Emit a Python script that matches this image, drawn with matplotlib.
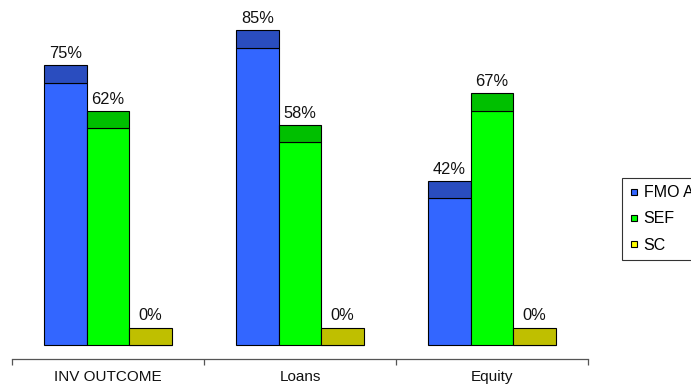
import matplotlib
matplotlib.use("Agg")
import matplotlib.pyplot as plt
from matplotlib.lines import Line2D

plt.rcParams["font.family"] = ["Liberation Sans", "DejaVu Sans"]

categories = ["INV OUTCOME", "Loans", "Equity"]
series = ["FMO A", "SEF", "SC"]
fmo_a = [75, 85, 42]
sef = [62, 58, 67]
sc = [0, 0, 0]

face_colors = ["#3366FF", "#00FF00", "#FFFF00"]
cap_colors = ["#2A4DBF", "#00BF00", "#BFBF00"]

W, H = 691, 387
fig = plt.figure(figsize=(W / 100, H / 100), dpi=100)

# axes spans the category axis line (x 12..588 px), top of figure down to the axis line
px_per_unit = 3.5
ax_bottom_px = 359
ax = fig.add_axes([12 / W, 1 - ax_bottom_px / H, 576 / W, ax_bottom_px / H])
ax.set_xlim(0, 3)
ax.set_ylim(-14 / px_per_unit, 345 / px_per_unit)

cap = 17.5 / px_per_unit
bar_w = 2 / 9
for k, vals in enumerate([fmo_a, sef, sc]):
    xs = [i + 1 / 6 + k * bar_w for i in range(len(categories))]
    ax.bar(xs, vals, width=bar_w, align="edge", color=face_colors[k],
           edgecolor="black", linewidth=0.8, zorder=2)
    ax.bar(xs, [cap] * len(vals), bottom=vals, width=bar_w, align="edge",
           color=cap_colors[k], edgecolor="black", linewidth=0.8, zorder=2)
    for x, v in zip(xs, vals):
        ax.text(x + bar_w / 2, v + cap + 11.5 / px_per_unit, f"{v}%",
                ha="center", va="center", fontsize=11.8, color="#111111")

for s in ["left", "right", "top"]:
    ax.spines[s].set_visible(False)
ax.spines["bottom"].set_color("#555555")
ax.spines["bottom"].set_linewidth(0.9)
ax.set_yticks([])
ax.set_xticks([0, 1, 2, 3])
ax.set_xticklabels([])
ax.tick_params(axis="x", direction="out", length=4, color="#555555", width=0.9)
for i, c in enumerate(categories):
    ax.text(i + 0.5, -32 / px_per_unit, c, ha="center", va="center",
            fontsize=11, color="#111111", clip_on=False)

handles = [Line2D([], [], linestyle="none", marker="s", markersize=5,
                  markerfacecolor=face_colors[k], markeredgecolor="black",
                  markeredgewidth=0.8) for k in range(3)]
leg = fig.legend(handles, series, loc="upper left",
                 bbox_to_anchor=(622 / W, 1 - 178 / H), fontsize=11.5,
                 frameon=True, fancybox=False, handlelength=0.6,
                 handletextpad=0.3, borderpad=0.45, labelspacing=0.7,
                 borderaxespad=0)
leg.get_frame().set_edgecolor("black")
leg.get_frame().set_linewidth(0.8)

fig.savefig("out.png", dpi=100)
